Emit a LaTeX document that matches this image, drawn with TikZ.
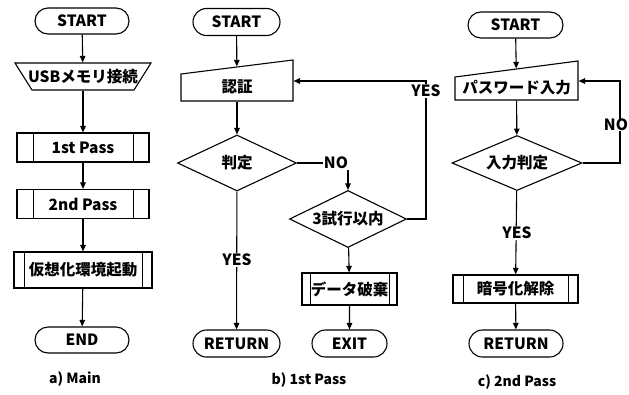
\documentclass[tikz,border=0pt]{standalone}
\usepackage{fontspec}
\setmainfont{Noto Sans CJK JP}
\usetikzlibrary{shapes.geometric,shapes.misc,arrows.meta}
\begin{document}
\begin{tikzpicture}[x=1pt,y=-1pt,
  font=\fontsize{15.5}{17}\selectfont\bfseries,
  line width=1.1pt,
  arr/.style={-{Triangle[length=6.5pt,width=5.5pt]}},
  term/.style={draw, rounded rectangle, minimum width=#1, minimum height=26pt, inner sep=0pt},
  ghost/.style={rectangle, inner sep=0pt},
  pproc/.style 2 args={draw, rectangle, minimum width=#1, inner sep=0pt,
    path picture={\draw[line width=0.8pt]
      ([xshift=#2]path picture bounding box.north west) -- ([xshift=#2]path picture bounding box.south west)
      ([xshift=-#2]path picture bounding box.north east) -- ([xshift=-#2]path picture bounding box.south east);}},
  dec/.style={draw, diamond, aspect=2, inner sep=0pt},
  lbl/.style={fill=white, inner sep=1pt},
  txt/.style={inner sep=0pt},
  captxt/.style={inner sep=0pt, font=\fontsize{14}{16}\selectfont\bfseries}]
\useasboundingbox (0,0) rectangle (629,394);

% ---------- a) Main ----------
\node[term=94pt] (aS) at (82,21) {START};
\draw (15,63) -- (151,63) -- (134,90) -- (32,90) -- cycle;
\node[ghost, minimum width=136pt, minimum height=27pt] (aU) at (83,76.5) {USBメモリ接続};
\node[pproc={132pt}{16pt}, minimum height=29pt] (a1) at (83,147.5) {1st Pass};
\node[pproc={132pt}{16pt}, minimum height=29pt] (a2) at (83,204) {2nd Pass};
\node[pproc={138pt}{10pt}, minimum height=36pt] (a3) at (83,270) {仮想化環境起動};
\node[term=94pt] (aE) at (82,340) {END};
\node[captxt] (capa) at (75,379) {a) Main};
\draw[arr] (aS) -- (aU);
\draw[arr] (aU) -- (a1);
\draw[arr] (a1) -- (a2);
\draw[arr] (a2) -- (a3);
\draw[arr] (a3) -- (aE);

% ---------- b) 1st Pass ----------
\node[term=87pt, minimum height=27pt] (bS) at (236.5,22) {START};
\draw (181,74) -- (293,60) -- (293,101) -- (181,101) -- cycle;
\node[ghost, minimum width=112pt, minimum height=34pt] (bA) at (237,84) {};
\node[txt] (bAt) at (237,87) {認証};
\node[dec, minimum width=119pt, minimum height=56pt] (bD) at (237,163) {判定};
\node[dec, minimum width=117pt, minimum height=57pt] (bT) at (348,219) {3試行以内};
\node[pproc={95pt}{8pt}, minimum height=32pt] (bX) at (349.5,289) {データ破棄};
\node[term=75pt, minimum height=27pt] (bE) at (349.5,343.5) {EXIT};
\node[term=87pt, minimum height=27pt] (bR) at (236.5,343.5) {RETURN};
\node[captxt] (capb) at (309,380) {b) 1st Pass};
\coordinate (bc1) at (348,163);
\coordinate (bc2) at (426,81);
\draw[arr] (bS) -- (bA);
\draw[arr] (bA) -- (bD);
\draw[arr] (bD) -- (bR);
\node[lbl] (bY1) at (237,260) {YES};
\draw[arr] (bD.east) -- (bc1) -- (bT);
\node[lbl] (bN) at (336,163) {NO};
\draw[arr] (bT.east) -| (bc2) -- (bc2 -| bA.east);
\node[lbl] (bY2) at (426,91) {YES};
\draw[arr] (bT) -- (bX);
\draw[arr] (bX) -- (bE);

% ---------- c) 2nd Pass ----------
\node[term=95pt] (cS) at (515.5,25) {START};
\draw (455,77) -- (578,61) -- (578,100) -- (455,100) -- cycle;
\node[ghost, minimum width=123pt, minimum height=31pt] (cP) at (516.5,84.5) {};
\node[txt] (cPt) at (516.5,88) {パスワード入力};
\node[dec, minimum width=130pt, minimum height=55pt] (cD) at (517,163) {入力判定};
\node[pproc={125pt}{10pt}, minimum height=28pt] (cX) at (515.5,289) {暗号化解除};
\node[term=94pt, minimum height=27pt] (cR) at (516,343.5) {RETURN};
\node[captxt] (capc) at (517,382) {c) 2nd Pass};
\coordinate (cc1) at (620,81);
\draw[arr] (cD.east) -| (cc1) -- (cc1 -| cP.east);
\draw[arr] (cS) -- (cP);
\draw[arr] (cP) -- (cD);
\draw[arr] (cD) -- (cX);
\node[lbl] (cY) at (517,233) {YES};
\node[lbl, inner sep=0.5pt] (cN) at (616,125) {NO};
\draw[arr] (cX) -- (cR);
\end{tikzpicture}
\end{document}
